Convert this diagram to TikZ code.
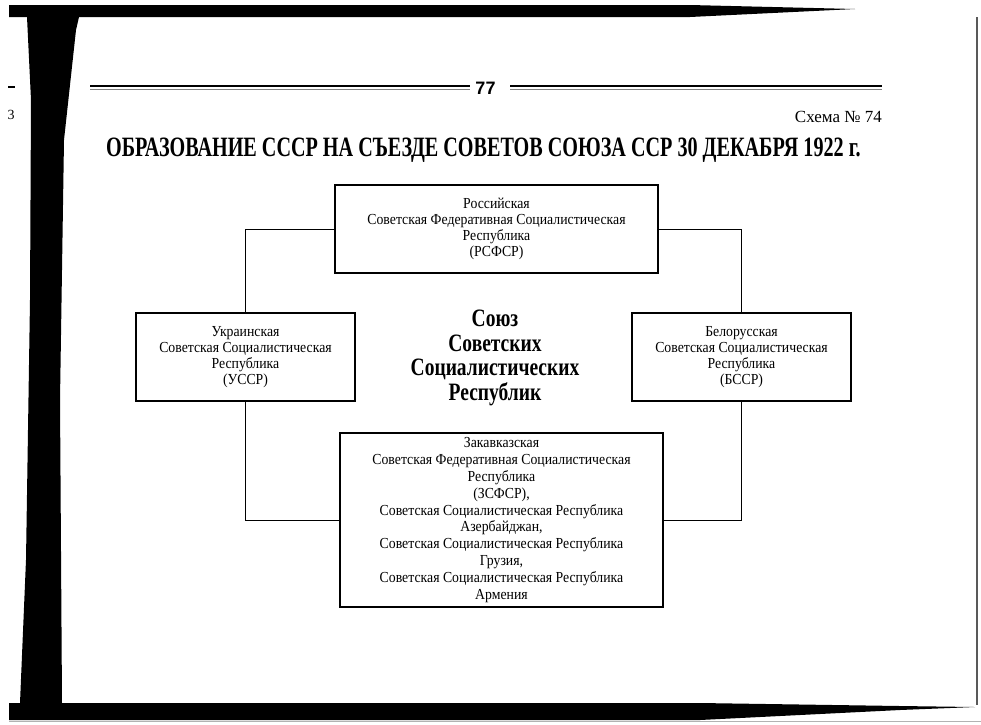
\documentclass[tikz,border=0pt]{standalone}
\usepackage{fontspec}
\setmainfont{Liberation Serif}
\newfontfamily\headfont[FakeStretch=0.72]{Liberation Serif}
\newfontfamily\unionfont[FakeStretch=0.78]{Liberation Serif}
\newfontfamily\boxfont[FakeStretch=0.9]{Liberation Serif}
\newfontfamily\numfont{Liberation Sans}
\usetikzlibrary{positioning}

\begin{document}
\begin{tikzpicture}[x=1pt,y=-1pt,
    republic/.style={draw,line width=1.1pt,align=center,inner sep=0pt,
      font=\boxfont\fontsize{15.3}{16}\selectfont},
    link/.style={line width=0.9pt},
    scan/.style={fill=black,draw=none}]
    \useasboundingbox[fill=white] (0,0) rectangle (981,724);
    % scanned page edges
    \fill[scan] (9,5) -- (690,5) -- (855,9) -- (690,17) -- (9,17) -- cycle;
    \fill[scan] (27,17) -- (79,17) -- (76,30) -- (64,140) -- (60,400) -- (62,703) -- (20,703) -- (26,560) -- (30,300) -- (31,100) -- cycle;
    \fill[scan] (9,703) -- (700,703) -- (900,706) -- (975,707) -- (900,710) -- (700,720) -- (9,720) -- cycle;
    \draw[line width=2pt,gray!70!black] (977,17) -- (977,705);
    \draw[gray!60] (9,721) -- (981,721);
    \draw[line width=1.5pt] (8,87) -- (15,87);
    \node[font=\fontsize{14}{14}\selectfont] (side) at (11,115) {3};
    % header
    \draw[line width=2pt] (90,85.5) -- (470,85.5);
    \draw[line width=0.8pt,gray] (90,89.5) -- (470,89.5);
    \draw[line width=2pt] (510,85.5) -- (882,85.5);
    \draw[line width=0.8pt,gray] (510,89.5) -- (882,89.5);
    \node[font=\numfont\bfseries\fontsize{18}{18}\selectfont,inner sep=0pt] (page) at (485.5,88.5) {77};
    \node[anchor=base east,inner sep=0pt,font=\fontsize{17}{17}\selectfont] (schema) at (882,122) {Схема №~74};
    \node[anchor=base,inner sep=0pt,font=\headfont\bfseries\fontsize{28}{28}\selectfont] (title) at (483.5,156)
      {ОБРАЗОВАНИЕ СССР НА СЪЕЗДЕ СОВЕТОВ СОЮЗА ССР 30 ДЕКАБРЯ 1922 г.};
    % republics
    \node[republic,minimum width=323pt,minimum height=88pt] (rsfsr) at (496.5,229)
      {Российская\\Советская Федеративная Социалистическая\\Республика\\(РСФСР)};
    \node[republic,minimum width=219pt,minimum height=88pt] (ussr) at (245.5,357)
      {Украинская\\Советская Социалистическая\\Республика\\(УССР)};
    \node[republic,minimum width=219pt,minimum height=88pt] (bssr) at (741.5,357)
      {Белорусская\\Советская Социалистическая\\Республика\\(БССР)};
    \node[republic,minimum width=323pt,minimum height=174pt,
      font=\boxfont\fontsize{15.3}{16.8}\selectfont] (zsfsr) at (501.5,520)
      {Закавказская\\Советская Федеративная Социалистическая\\Республика\\(ЗСФСР),\\
       Советская Социалистическая Республика\\Азербайджан,\\
       Советская Социалистическая Республика\\Грузия,\\
       Советская Социалистическая Республика\\Армения};
    \node[align=center,inner sep=0pt,font=\unionfont\bfseries\fontsize{25}{24.7}\selectfont] (union) at (495,358)
      {Союз\\Советских\\Социалистических\\Республик};
    % connections
    \draw[link] (rsfsr.west) -| (ussr.north);
    \draw[link] (ussr.south) |- (zsfsr.west);
    \draw[link] (zsfsr.east) -| (bssr.south);
    \draw[link] (bssr.north) |- (rsfsr.east);
\end{tikzpicture}
\end{document}
